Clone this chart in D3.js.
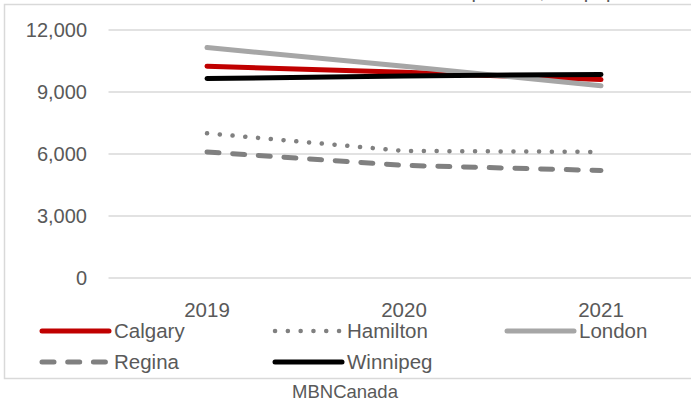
<!DOCTYPE html>
<html>
<head>
<meta charset="utf-8">
<script src="https://cdn.jsdelivr.net/npm/d3@7"></script>
<style>
  body { margin: 0; background: #fff; }
  svg { display: block; }
  text { font-family: "Liberation Sans", Arial, sans-serif; fill: #595959; }
</style>
</head>
<body>
<svg id="chart"></svg>
<script>
let years = ["2019", "2020", "2021"];
let cities = ["Calgary", "Hamilton", "London", "Regina", "Winnipeg"];
let calgary = [10250, 9950, 9600];
let hamilton = [7000, 6150, 6100];
let london = [11150, 10250, 9300];
let regina = [6100, 5450, 5200];
let winnipeg = [9650, 9780, 9850];
let yTicks = [0, 3000, 6000, 9000, 12000];
let sourceLabel = "MBNCanada";

let W = 691, H = 402;
let plot = {left: 108.5, right: 699.5, top: 30, bottom: 278};

// line styles per series, in drawing order
let styles = {
    Calgary: {color: "#c00000", width: 5, dash: null},
    Hamilton: {color: "#808080", width: 4.5, dash: "0.1 12.7"},
    London: {color: "#a6a6a6", width: 5, dash: null},
    Regina: {color: "#808080", width: 5, dash: "12 13.7"},
    Winnipeg: {color: "#000000", width: 5, dash: null}
};
let seriesValues = [calgary, hamilton, london, regina, winnipeg];

let svg = d3.select("#chart")
    .attr("width", W)
    .attr("height", H);

// outer frame (extends past the right edge of the crop)
svg.append("rect")
    .attr("x", 4.5)
    .attr("y", 4.5)
    .attr("width", 760)
    .attr("height", 374)
    .attr("fill", "none")
    .attr("stroke", "#d9d9d9")
    .attr("stroke-width", 1.5);

// title sits above the crop, only its descenders show
svg.append("text")
    .attr("x", 676)
    .attr("y", -2)
    .attr("text-anchor", "end")
    .style("font-size", "20px")
    .text("per 100,000 population");

let x = d3.scaleBand()
    .domain(years)
    .range([plot.left, plot.right]);

let y = d3.scaleLinear()
    .domain([0, 12000])
    .range([plot.bottom, plot.top]);

// gridlines
svg.append("g")
    .selectAll("line")
    .data(yTicks)
    .enter()
    .append("line")
    .attr("x1", plot.left)
    .attr("x2", W)
    .attr("y1", function (d) { return y(d); })
    .attr("y2", function (d) { return y(d); })
    .attr("stroke", "#d9d9d9")
    .attr("stroke-width", 1.5);

// y labels
svg.append("g")
    .selectAll("text")
    .data(yTicks)
    .enter()
    .append("text")
    .attr("x", 87)
    .attr("y", function (d) { return y(d); })
    .attr("dy", "0.36em")
    .attr("text-anchor", "end")
    .style("font-size", "20px")
    .text(d3.format(","));

// x labels
svg.append("g")
    .selectAll("text")
    .data(years)
    .enter()
    .append("text")
    .attr("x", function (d) { return x(d) + x.bandwidth() / 2; })
    .attr("y", 317)
    .attr("text-anchor", "middle")
    .style("font-size", "20.5px")
    .text(function (d) { return d; });

let line = d3.line()
    .x(function (d, i) { return x(years[i]) + x.bandwidth() / 2; })
    .y(function (d) { return y(d); });

cities.forEach(function (name, k) {
    let s = styles[name];
    svg.append("path")
        .datum(seriesValues[k])
        .attr("d", line)
        .attr("fill", "none")
        .attr("stroke", s.color)
        .attr("stroke-width", s.width)
        .attr("stroke-linecap", "round")
        .attr("stroke-linejoin", "round")
        .attr("stroke-dasharray", s.dash);
});

// legend
let legendCols = [40, 273, 505];
let legendRows = [331, 362];
let legend = svg.append("g");
cities.forEach(function (name, k) {
    let s = styles[name];
    let lx = legendCols[k % 3];
    let ly = legendRows[Math.floor(k / 3)];
    legend.append("line")
        .attr("x1", lx + 2)
        .attr("x2", lx + 69)
        .attr("y1", ly)
        .attr("y2", ly)
        .attr("stroke", s.color)
        .attr("stroke-width", s.width)
        .attr("stroke-linecap", "round")
        .attr("stroke-dasharray", s.dash);
    legend.append("text")
        .attr("x", lx + 74)
        .attr("y", ly)
        .attr("dy", "0.36em")
        .style("font-size", "20.5px")
        .text(name);
});

svg.append("text")
    .attr("x", 345)
    .attr("y", 398)
    .attr("text-anchor", "middle")
    .style("font-size", "18.5px")
    .text(sourceLabel);
</script>
</body>
</html>
